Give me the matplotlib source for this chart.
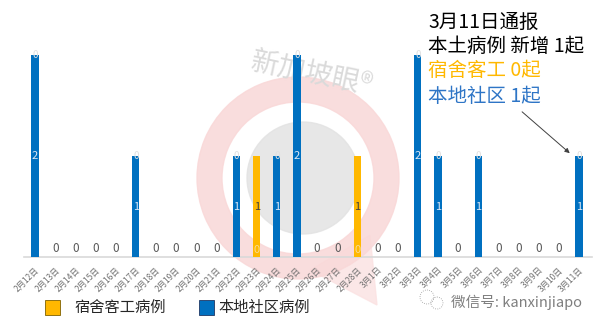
import matplotlib
matplotlib.use('Agg')
import matplotlib.pyplot as plt
from matplotlib.patches import Wedge, Circle, Polygon, Rectangle
import numpy as np

plt.rcParams['font.family'] = ['Noto Sans CJK SC', 'DejaVu Sans']

datas = ['2月12日', '2月13日', '2月14日', '2月15日', '2月16日', '2月17日',
         '2月18日', '2月19日', '2月20日', '2月21日', '2月22日', '2月23日',
         '2月24日', '2月25日', '2月26日', '2月27日', '2月28日', '3月1日',
         '3月2日', '3月3日', '3月4日', '3月5日', '3月6日', '3月7日',
         '3月8日', '3月9日', '3月10日', '3月11日']
dormitorio = [0, 0, 0, 0, 0, 0, 0, 0, 0, 0, 0, 1, 0, 0, 0, 0, 1, 0,
              0, 0, 0, 0, 0, 0, 0, 0, 0, 0]
local = [2, 0, 0, 0, 0, 1, 0, 0, 0, 0, 1, 0, 1, 2, 0, 0, 0, 0,
         0, 2, 1, 0, 1, 0, 0, 0, 0, 1]

cor_laranja = '#FFB800'
cor_azul = '#0070C0'

W, H = 601, 329
fig = plt.figure(figsize=(W / 100, H / 100), dpi=100)

# camada de fundo em pixels (marca d'agua, legenda, textos)
fundo = fig.add_axes([0, 0, 1, 1])
fundo.set_xlim(0, W)
fundo.set_ylim(H, 0)
fundo.axis('off')
fundo.set_zorder(0)

fundo.add_patch(Polygon([(310, 270), (370, 235), (377, 305)], closed=True,
                        color='#FBE2E2', alpha=0.8, zorder=0))
fundo.add_patch(Wedge((298, 178), 101, 0, 360, width=25, color='#F9D8D8',
                      alpha=0.85, zorder=0))
fundo.add_patch(Circle((303, 178), 56, color='#E3E3E3', alpha=0.85, zorder=0))
fundo.text(312, 75, '新加坡眼®', fontsize=20, color='#DADADA', rotation=-12,
           ha='center', va='center', zorder=0)

# legenda
fundo.add_patch(Rectangle((45, 300), 15, 15, facecolor=cor_laranja,
                          edgecolor='#7F6000', lw=0.6))
fundo.text(75, 307, '宿舍客工病例', fontsize=11, color='#262626', va='center')
fundo.add_patch(Rectangle((199, 300), 15, 15, facecolor=cor_azul,
                          edgecolor='#1F3864', lw=0.6))
fundo.text(218, 307, '本地社区病例', fontsize=11, color='#262626', va='center')

# marca do wechat
fundo.add_patch(Circle((427, 297), 7, fill=False, ec='#9A9A9A', lw=0.6, ls=':'))
fundo.add_patch(Circle((437, 303), 6, fill=False, ec='#9A9A9A', lw=0.6, ls=':'))
fundo.text(451, 302, '微信号: kanxinjiapo', fontsize=10.5, color='#7F7F7F',
           va='center')

# texto de anuncio
fundo.text(428, 22, '3月11日通报', fontsize=14, color='black', va='center')
fundo.text(428, 47, '本土病例 新增 1起', fontsize=14, color='black', va='center')
fundo.text(428, 71, '宿舍客工 0起', fontsize=14, color=cor_laranja, va='center')
fundo.text(428, 96, '本地社区 1起', fontsize=14, color='#2E75C6', va='center')

# grafico
base_px, topo_px = 257, 55
alt = (base_px - topo_px) / 2 * 2.07
ax = fig.add_axes([0.04, (H - base_px) / H, 0.945, alt / H])
ax.patch.set_alpha(0)
ax.set_zorder(1)

x = np.arange(len(datas))
ax.bar(x, dormitorio, width=0.36, color=cor_laranja, zorder=3)
ax.bar(x, local, width=0.36, bottom=dormitorio, color=cor_azul, zorder=3)

for i in range(len(datas)):
    d = dormitorio[i]
    l = local[i]
    total = d + l
    if total == 0:
        ax.text(i, 0.015, '0', ha='center', va='bottom', fontsize=8.5,
                color='#595959', zorder=4)
        continue
    if d > 0:
        ax.text(i, d / 2, str(d), ha='center', va='center', fontsize=8,
                color='#404040', zorder=4)
        ax.text(i, 0.015, '0', ha='center', va='bottom', fontsize=8,
                color='#F2F2F2', alpha=0.6, zorder=4)
    if l > 0:
        ax.text(i, d + l / 2, str(l), ha='center', va='center', fontsize=8,
                color='#DDE8F5', zorder=4)
        ax.text(i, total, '0', ha='center', va='center', fontsize=7,
                color='#E0E0E0', zorder=4)

ax.set_xlim(-0.55, len(datas) - 0.35)
ax.set_ylim(0, 2.07)
ax.set_yticks([])
for lado in ['top', 'right', 'left']:
    ax.spines[lado].set_visible(False)
ax.spines['bottom'].set_color('#D9D9D9')
ax.spines['bottom'].set_linewidth(1.2)
ax.set_xticks(x)
ax.set_xticklabels(datas, rotation=45, ha='right', fontsize=6,
                   color='#707070', rotation_mode='anchor')
ax.tick_params(axis='x', length=0, pad=6)

ax.annotate('', xy=(27 - 0.35, 1.0 + 0.01), xycoords='data',
            xytext=(520, 110), textcoords=fundo.transData,
            arrowprops=dict(arrowstyle='-|>', color='#404040', lw=0.7,
                            mutation_scale=7))

plt.savefig('out.png', dpi=100)
plt.close()
